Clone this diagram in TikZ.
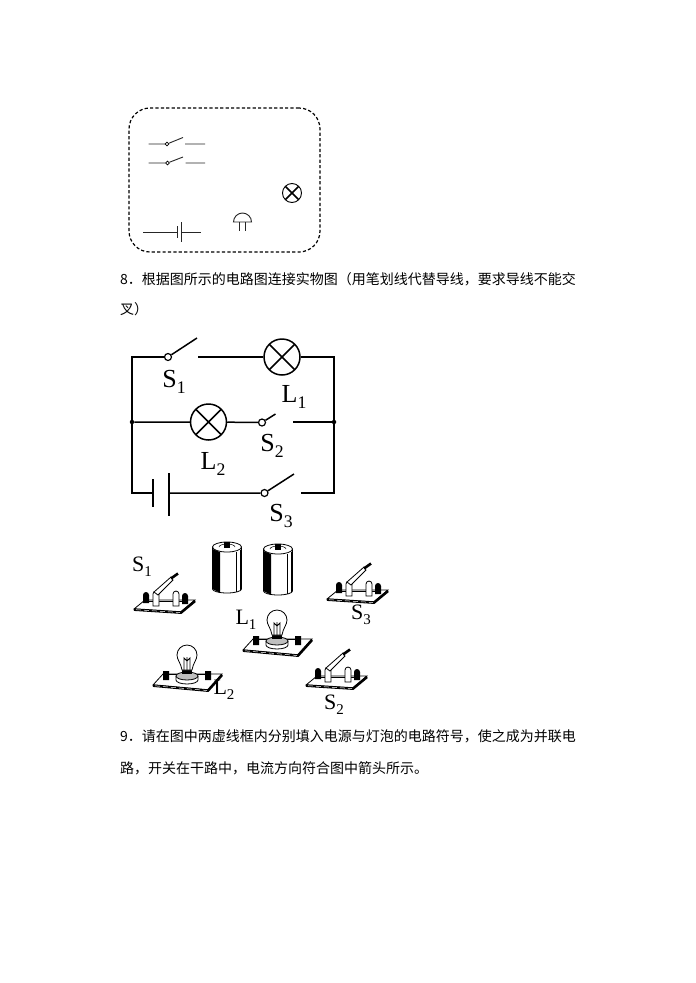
\documentclass[tikz,border=0pt]{standalone}
\usepackage{fontspec}
\setmainfont{Liberation Serif}
\newfontfamily\cjk{Noto Sans CJK SC}
\newcommand{\lowsub}[2]{#1\raisebox{-0.22em}{\fontsize{0.68em}{0.68em}\selectfont #2}}
\tikzset{
    wire/.style={line width=1.5pt},
    thinwire/.style={line width=0.9pt, black!85},
    lamp/.style={shape=circle, draw=black, line width=1.5pt, minimum size=36pt, inner sep=0pt,
        path picture={\draw[line width=1.5pt] (path picture bounding box.north west) -- (path picture bounding box.south east)
            (path picture bounding box.north east) -- (path picture bounding box.south west);}},
    smalllamp/.style={lamp, line width=0.9pt, minimum size=19pt},
    pivot/.style={shape=circle, draw=black, fill=white, line width=1.2pt, minimum size=7pt, inner sep=0pt},
    smallpivot/.style={shape=circle, draw=black, fill=white, line width=0.7pt, minimum size=3.8pt, inner sep=0pt},
    junction/.style={shape=circle, fill=black, minimum size=4.5pt, inner sep=0pt},
    symlabel/.style={inner sep=0pt, font=\fontsize{26}{26}\selectfont},
    objlabel/.style={inner sep=0pt, font=\fontsize{22}{22}\selectfont},
    question/.style={anchor=west, inner sep=0pt, font=\cjk\fontsize{14}{16}\selectfont},
    frontedge/.style={line width=2.6pt},
    frontmark/.style={line width=0.5pt, white, dash pattern=on 5pt off 3pt},
    pics/knifeswitch/.style={code={
        \draw[line width=0.8pt, fill=white] (0,0) -- (47,3) -- (61,-9) -- (11,-9) -- cycle;
        \draw[frontedge] (0,0.6) -- (47,3.6) -- (61,-8);
        \draw[frontmark] (2,0.7) -- (46,3.5);
        \fill (9,-14) rectangle (15,-6) (48,-13) rectangle (54,-5);
        \fill (12,-14) circle (3) (51,-13) circle (3);
        \draw[line width=0.8pt] (15,-8) -- (48,-8);
        \draw[line width=0.8pt, fill=white] (19,-3) -- (19,-15) arc[start angle=180, end angle=360, radius=3] -- (25,-3) -- cycle;
        \draw[line width=0.8pt, fill=white] (39,-3) -- (39,-15) arc[start angle=180, end angle=360, radius=3] -- (45,-3) -- cycle;
        \draw[line width=0.8pt, fill=white] (20,-17) -- (37,-32) -- (39,-29) -- (24,-14) -- cycle;
        \draw[line width=2.6pt] (37,-30.5) -- (44,-35.5);
    }},
    pics/drycell/.style={code={
        \draw[line width=0.8pt, fill=white] (-14.5,0) -- (-14.5,42) arc[start angle=180, end angle=0, x radius=14.5, y radius=4] -- (14.5,0);
        \fill (-14.5,2) -- (-7,5) -- (-7,46) -- (-14.5,42) -- cycle;
        \draw[line width=0.7pt] (9,5) -- (9,45) (13,3) -- (13,43);
        \draw[line width=0.8pt, fill=white] (0,0) ellipse [x radius=14.5, y radius=5];
        \draw[line width=0.5pt] (-8,0) arc[start angle=180, end angle=360, x radius=8, y radius=3];
        \fill (-3,-5) rectangle (3,1);
    }},
    pics/bulbboard/.style={code={
        \draw[line width=0.8pt, fill=white] (0,0) -- (55,5) -- (69,-11) -- (10,-11) -- cycle;
        \draw[frontedge] (0,0.6) -- (55,5.6) -- (69,-10);
        \draw[frontmark] (2,0.8) -- (54,5.5);
        \fill (10,-14) rectangle (16,-5) (52,-14) rectangle (58,-5);
        \draw[line width=0.8pt] (16,-11) -- (52,-11);
        \draw[line width=0.8pt, fill=white] (23,-9) -- (23,-5) arc[start angle=180, end angle=0, x radius=11, y radius=4] -- (45,-9);
        \draw[line width=0.8pt, fill=black!25] (34,-9) ellipse [x radius=11, y radius=4];
        \fill (29,-11) rectangle (39,-15);
        \draw[line width=0.8pt, fill=white] (29,-15) .. controls (28,-22) and (24,-25) .. (24,-30) arc[start angle=180, end angle=360, radius=10] .. controls (44,-25) and (40,-22) .. (39,-15) -- cycle;
        \draw[line width=0.9pt] (31,-15) -- (31,-27) -- (34,-24) -- (37,-27) -- (37,-15) (34,-15) -- (34,-28);
    }}
}

\begin{document}
\begin{tikzpicture}[x=1pt, y=-1pt]
        \useasboundingbox (0,0) rectangle (696,983);
        \fill[white] (0,0) rectangle (696,983);

        \node[draw=black, line width=1.2pt, dash pattern=on 3.2pt off 2.2pt, rounded corners=21pt, minimum width=191pt, minimum height=144pt, inner sep=0pt] (box) at (224.5,180) {};

        \coordinate (a1) at (148.5,144);
        \node[smallpivot] (p1) at (167,144) {};
        \coordinate (t1) at (183,137.5);
        \coordinate (c1) at (185,144);
        \coordinate (d1) at (205,144);
        \draw[thinwire] (a1) -- (p1) (p1) -- (t1) (c1) -- (d1);
        \coordinate (a2) at (148.5,163);
        \node[smallpivot] (p2) at (167.5,163) {};
        \coordinate (t2) at (183,157);
        \coordinate (c2) at (185.5,163);
        \coordinate (d2) at (205,163);
        \draw[thinwire] (a2) -- (p2) (p2) -- (t2) (c2) -- (d2);
        \node[smalllamp] (symlamp) at (292,193) {};
        \draw[thinwire] (233.5,222) arc[start angle=180, end angle=360, radius=9] -- cycle;
        \draw[thinwire] (239.5,222) -- (239.5,231) (245.5,222) -- (245.5,231);
        \coordinate (b1) at (143,232);
        \coordinate (b2) at (177,232);
        \coordinate (b3) at (181,232);
        \coordinate (b4) at (201,232);
        \draw[thinwire] (b1) -- (b2) (b3) -- (b4) (177,226) -- (177,238) (181,222) -- (181,242);

        \node[question] (q8a) at (120,279) {8．根据图所示的电路图连接实物图（用笔划线代替导线，要求导线不能交};
        \node[question] (q8b) at (120,309) {叉）};

        \coordinate (tl) at (132,357);
        \coordinate (tr) at (334,357);
        \coordinate (bl) at (132,493);
        \coordinate (br) at (334,493);
        \node[junction] (jl) at (132,422) {};
        \node[junction] (jr) at (334,422) {};
        \node[pivot] (S1) at (168,357) {};
        \node[pivot] (S2) at (262,422.5) {};
        \node[pivot] (S3) at (264.5,493) {};
        \node[lamp] (L1) at (282,357) {};
        \node[lamp] (L2) at (208.5,422) {};
        \coordinate (S1top) at (197,338);
        \coordinate (S2top) at (275.5,414);
        \coordinate (S3top) at (294,474);
        \coordinate (S1end) at (198,357);
        \coordinate (S2end) at (293,422);
        \coordinate (S3end) at (301,493);
        \coordinate (shortup) at (153,479);
        \coordinate (shortdown) at (153,507);
        \coordinate (longup) at (169,473);
        \coordinate (longdown) at (169,516);

        \draw[wire] (S1) -- (tl) -- (bl) -- (bl -| shortup);
        \draw[wire] (S1) -- (S1top);
        \draw[wire] (S1end) -- (L1) (L1) -- (tr) -- (br) -- (S3end);
        \draw[wire] (jl) -- (L2) (L2) -- (S2) (S2) -- (S2top);
        \draw[wire] (S2end) -- (jr);
        \draw[wire] (shortup) -- (shortdown);
        \draw[wire] (longup) -- (longdown);
        \draw[wire] (bl -| longup) -- (S3) (S3) -- (S3top);

        \node[symlabel] (lS1) at (174,382) {\lowsub{S}{1}};
        \node[symlabel] (lL1) at (294,397) {\lowsub{L}{1}};
        \node[symlabel] (lS2) at (272,446) {\lowsub{S}{2}};
        \node[symlabel] (lL2) at (213,464) {\lowsub{L}{2}};
        \node[symlabel] (lS3) at (281,516) {\lowsub{S}{3}};

        \pic at (227,547) {drycell};
        \pic at (278,549) {drycell};
        \pic at (134,609) {knifeswitch};
        \pic at (327,599) {knifeswitch};
        \pic at (306,685) {knifeswitch};
        \pic at (243,650) {bulbboard};
        \pic at (153,685) {bulbboard};

        \node[objlabel] (oS1) at (142,567) {\lowsub{S}{1}};
        \node[objlabel] (oL1) at (246,620) {\lowsub{L}{1}};
        \node[objlabel] (oS3) at (361,615) {\lowsub{S}{3}};
        \node[objlabel] (oL2) at (224,690) {\lowsub{L}{2}};
        \node[objlabel] (oS2) at (334,705) {\lowsub{S}{2}};

        \node[question] (q9a) at (120,736) {9．请在图中两虚线框内分别填入电源与灯泡的电路符号，使之成为并联电};
        \node[question] (q9b) at (120,768) {路，开关在干路中，电流方向符合图中箭头所示。};

    \end{tikzpicture}
\end{document}
